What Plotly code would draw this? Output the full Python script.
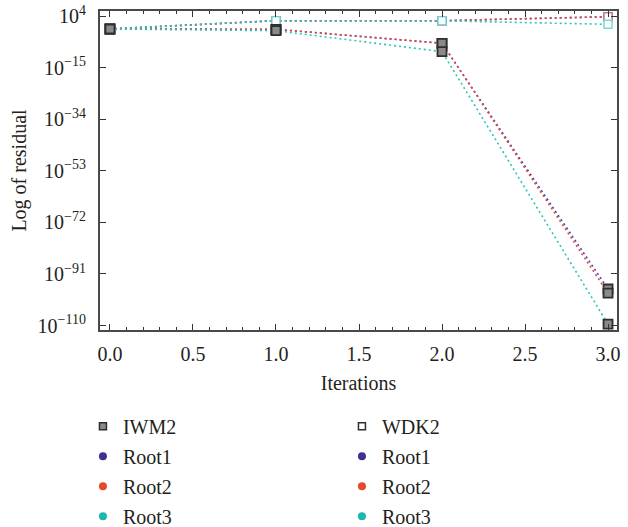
import plotly.graph_objects as go

# Residuals per iteration for the two methods and three roots
iterations = [0, 1, 2, 3]
iwm2_root1 = [2.1e-1, 1.6e-1, 1.1e-6, 2.8e-97]
iwm2_root2 = [2.1e-1, 1.6e-1, 1.1e-6, 8.0e-99]
iwm2_root3 = [2.1e-1, 5.0e-2, 9.0e-10, 3.0e-110]
wdk2_root1 = [2.1e-1, 2.4e2, 2.4e2, 7.0e3]
wdk2_root2 = [2.1e-1, 2.4e2, 2.4e2, 7.0e3]
wdk2_root3 = [2.1e-1, 2.4e2, 2.2e2, 1.1e1]

root_names = ["Root1", "Root2", "Root3"]
y_tick_exponents = [4, -15, -34, -53, -72, -91, -110]
x_tick_vals = [0.0, 0.5, 1.0, 1.5, 2.0, 2.5, 3.0]

root_colors = ["#3b3290", "#e9472a", "#17b8b0"]
line_colors = ["#4a46a8", "#d94a4a", "#2cc4bc"]
wdk_marker_colors = ["rgba(90,80,160,0.75)", "rgba(200,110,130,0.85)", "rgba(110,215,215,0.9)"]

FONT = "Liberation Serif"
TXT = "#231f20"

fig = go.Figure()

# WDK2 curves (open squares) drawn underneath
for name, ys, lc, mc in zip(root_names, [wdk2_root1, wdk2_root2, wdk2_root3],
                            line_colors, wdk_marker_colors):
    fig.add_trace(go.Scatter(
        x=iterations, y=ys, mode="lines+markers", showlegend=False,
        name="WDK2 " + name,
        line=dict(color=lc, width=1.6, dash="2px,3px"),
        marker=dict(symbol="square", size=8, color="white",
                    line=dict(color=mc, width=1.5)),
    ))

# IWM2 curves (filled grey squares)
for name, ys, lc in zip(root_names, [iwm2_root1, iwm2_root2, iwm2_root3], line_colors):
    fig.add_trace(go.Scatter(
        x=iterations, y=ys, mode="lines+markers", showlegend=False,
        name="IWM2 " + name,
        line=dict(color=lc, width=1.6, dash="2px,3px"),
        marker=dict(symbol="square", size=9, color="#8a8a8a",
                    line=dict(color="#2e2e2e", width=1.8)),
    ))

# Legend entries: method header followed by root colours
def legend_entry(label, legend, group, marker):
    fig.add_trace(go.Scatter(
        x=[None], y=[None], mode="markers", name=label, legend=legend,
        legendgroup=group, showlegend=True, marker=marker,
    ))

for legend, method, fill in [("legend", "IWM2", "#8a8a8a"), ("legend2", "WDK2", "white")]:
    legend_entry(method, legend, legend + method,
                 dict(symbol="square", size=7, color=fill,
                      line=dict(color="#2e2e2e", width=1.5)))
    for name, c in zip(root_names, root_colors):
        legend_entry(name, legend, legend + name,
                     dict(symbol="circle", size=8, color=c, line=dict(width=0)))

legend_style = dict(
    orientation="v", yanchor="top", xanchor="left",
    font=dict(family=FONT, size=20, color=TXT),
    bgcolor="rgba(0,0,0,0)", tracegroupgap=1, itemsizing="trace",
)

fig.update_layout(
    width=628, height=527,
    margin=dict(l=100, r=11, t=11, b=197, autoexpand=False),
    paper_bgcolor="white", plot_bgcolor="white",
    font=dict(family=FONT, size=20, color=TXT),
    legend=dict(x=-0.033, y=-0.2406, **legend_style),
    legend2=dict(x=0.468, y=-0.2406, **legend_style),
    xaxis=dict(
        range=[-0.06, 3.054], tickmode="array", tickvals=x_tick_vals,
        ticktext=[f"{v:.1f}" for v in x_tick_vals],
        ticks="inside", ticklen=6, tickwidth=1.2, tickcolor="#333",
        minor=dict(dtick=0.1, ticks="inside", ticklen=3, tickwidth=1, tickcolor="#333"),
        showline=True, linecolor="#4a4a4a", linewidth=2, mirror="allticks",
        showgrid=False, zeroline=False, ticklabelstandoff=5,
        title=dict(text="Iterations", font=dict(family=FONT, size=20, color=TXT), standoff=12),
        tickfont=dict(family=FONT, size=20, color=TXT),
    ),
    yaxis=dict(
        type="log", range=[-111.66, 5.95], tickmode="array",
        tickvals=[10.0 ** e for e in y_tick_exponents],
        ticktext=[f"10<sup>{e}</sup>".replace("-", "\u2212") for e in y_tick_exponents],
        ticks="inside", ticklen=6, tickwidth=1.2, tickcolor="#333",
        showline=True, linecolor="#4a4a4a", linewidth=2, mirror="allticks",
        showgrid=False, zeroline=False, ticklabelstandoff=8,
        title=dict(text="Log of residual", font=dict(family=FONT, size=20, color=TXT), standoff=6),
        tickfont=dict(family=FONT, size=20, color=TXT),
    ),
)

fig.write_html("out.html")
